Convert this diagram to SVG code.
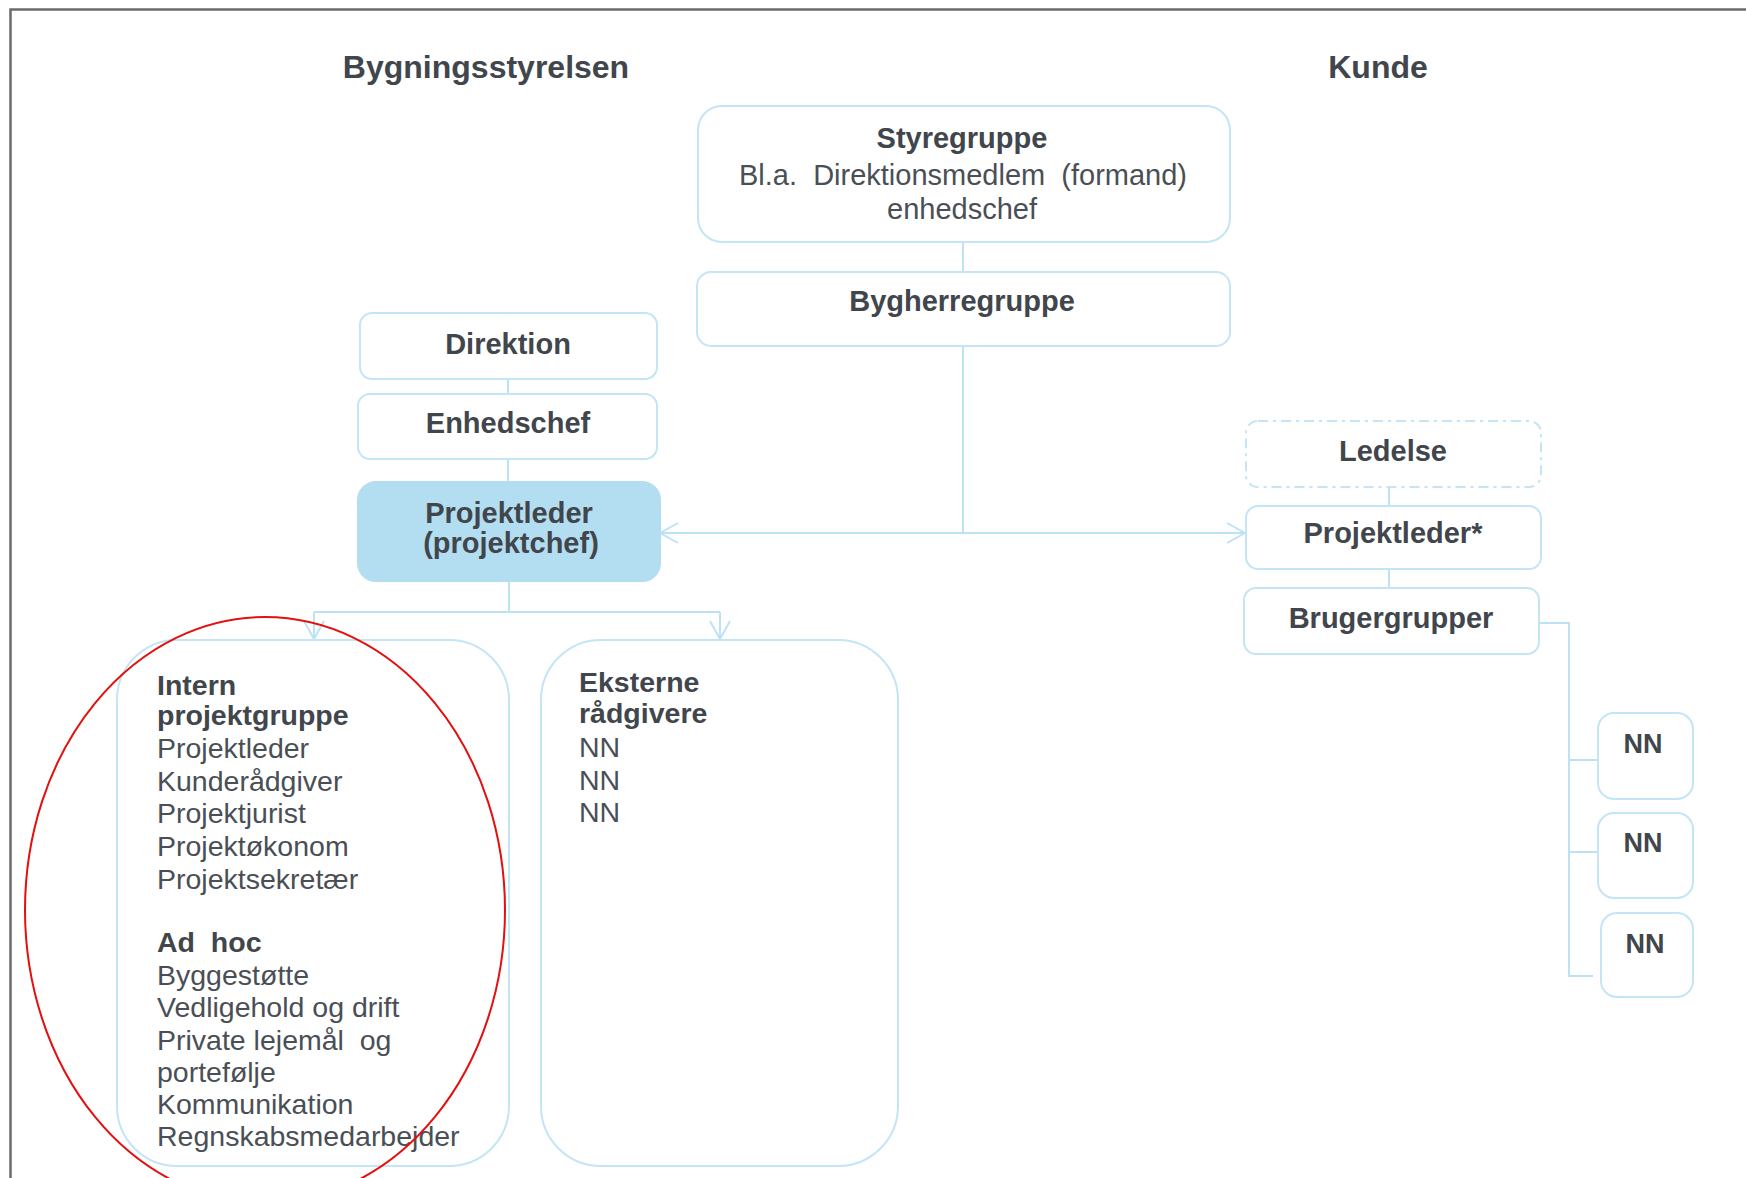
<svg xmlns="http://www.w3.org/2000/svg" width="1746" height="1178" viewBox="0 0 1746 1178">
<defs>
<style>
.box{fill:#ffffff;stroke:#c3e5f6;stroke-width:2}
.dash{stroke-dasharray:10 5 3 5}
.hl{fill:#b3def1;stroke:#b3def1;stroke-width:2}
.con{fill:none;stroke:#bde2f4;stroke-width:2}
.t{font-family:"Liberation Sans",Arial,sans-serif;fill:#41464c}
.title{font-size:32px;font-weight:bold;text-anchor:middle}
.lbl{font-size:29px;font-weight:bold;text-anchor:middle}
.reg{font-size:29px;text-anchor:middle;fill:#4a4f55}
.lb{font-size:28.5px;font-weight:bold}
.lr{font-size:28.5px;fill:#4a4f55}
</style>
<marker id="arr" viewBox="0 0 20 22" refX="19" refY="11" markerWidth="20" markerHeight="22" markerUnits="userSpaceOnUse" orient="auto-start-reverse">
<path d="M1,1 L19,11 L1,21" fill="none" stroke="#bde2f4" stroke-width="2"/>
</marker>
</defs>
<rect width="1746" height="1178" fill="#ffffff"/>
<path d="M10.5 1178 V9.5 H1746" fill="none" stroke="#6b6b6b" stroke-width="2.5"/>
<text class="t title" x="486" y="78">Bygningsstyrelsen</text>
<text class="t title" x="1378" y="78">Kunde</text>
<g id="connectors">
<path class="con" d="M963 242 V272"/>
<path class="con" d="M963 346 V533"/>
<path class="con" d="M660 533 H1245" marker-start="url(#arr)" marker-end="url(#arr)"/>
<path class="con" d="M508 379 V394"/>
<path class="con" d="M508 459 V482"/>
<path class="con" d="M509 581 V612"/>
<path class="con" d="M314 612 H720"/>
<path class="con" d="M314 612 V639" marker-end="url(#arr)"/>
<path class="con" d="M720 612 V639" marker-end="url(#arr)"/>
<path class="con" d="M1389 487 V506"/>
<path class="con" d="M1389 569 V588"/>
<path class="con" d="M1539 623 H1569 V976 H1593"/>
<path class="con" d="M1569 760 H1598"/>
<path class="con" d="M1569 852 H1598"/>
</g>
<g id="styregruppe">
<rect class="box" x="698" y="106" width="532" height="136" rx="24"/>
<text class="t lbl" x="962" y="148">Styregruppe</text>
<text class="t reg" x="963" y="185">Bl.a.&#160; Direktionsmedlem&#160; (formand)</text>
<text class="t reg" x="962" y="219">enhedschef</text>
</g>
<g id="bygherregruppe">
<rect class="box" x="697" y="272" width="533" height="74" rx="14"/>
<text class="t lbl" x="962" y="311">Bygherregruppe</text>
</g>
<g id="direktion">
<rect class="box" x="360" y="313" width="297" height="66" rx="12"/>
<text class="t lbl" x="508" y="354">Direktion</text>
</g>
<g id="enhedschef">
<rect class="box" x="358" y="394" width="299" height="65" rx="12"/>
<text class="t lbl" x="508" y="433">Enhedschef</text>
</g>
<g id="projektleder">
<rect class="hl" x="358" y="482" width="302" height="99" rx="18"/>
<text class="t lbl" x="509" y="523">Projektleder</text>
<text class="t lbl" x="511" y="553">(projektchef)</text>
</g>
<g id="intern">
<rect class="box" x="117" y="640" width="392" height="526" rx="60"/>
<text class="t lb" x="157" y="695">Intern</text>
<text class="t lb" x="157" y="725">projektgruppe</text>
<text class="t lr" x="157" y="758">Projektleder</text>
<text class="t lr" x="157" y="791">Kunderådgiver</text>
<text class="t lr" x="157" y="823">Projektjurist</text>
<text class="t lr" x="157" y="856">Projektøkonom</text>
<text class="t lr" x="157" y="889">Projektsekretær</text>
<text class="t lb" x="157" y="952">Ad&#160; hoc</text>
<text class="t lr" x="157" y="985">Byggestøtte</text>
<text class="t lr" x="157" y="1017">Vedligehold og drift</text>
<text class="t lr" x="157" y="1050">Private lejemål&#160; og</text>
<text class="t lr" x="157" y="1082">portefølje</text>
<text class="t lr" x="157" y="1114">Kommunikation</text>
<text class="t lr" x="157" y="1146">Regnskabsmedarbejder</text>
</g>
<g id="eksterne">
<rect class="box" x="541" y="640" width="357" height="526" rx="60"/>
<text class="t lb" x="579" y="692">Eksterne</text>
<text class="t lb" x="579" y="723">rådgivere</text>
<text class="t lr" x="579" y="757">NN</text>
<text class="t lr" x="579" y="790">NN</text>
<text class="t lr" x="579" y="822">NN</text>
</g>
<g id="ledelse">
<rect class="box dash" x="1246" y="421" width="295" height="66" rx="12"/>
<text class="t lbl" x="1393" y="461">Ledelse</text>
</g>
<g id="projektleder-kunde">
<rect class="box" x="1246" y="506" width="295" height="63" rx="12"/>
<text class="t lbl" x="1393" y="543">Projektleder*</text>
</g>
<g id="brugergrupper">
<rect class="box" x="1244" y="588" width="295" height="66" rx="12"/>
<text class="t lbl" x="1391" y="628">Brugergrupper</text>
</g>
<g id="nn1">
<rect class="box" x="1598" y="713" width="95" height="86" rx="16"/>
<text class="t lbl" x="1643" y="753" style="font-size:27px">NN</text>
</g>
<g id="nn2">
<rect class="box" x="1598" y="813" width="95" height="85" rx="16"/>
<text class="t lbl" x="1643" y="852" style="font-size:27px">NN</text>
</g>
<g id="nn3">
<rect class="box" x="1601" y="913" width="92" height="84" rx="16"/>
<text class="t lbl" x="1645" y="953" style="font-size:27px">NN</text>
</g>
<ellipse cx="265" cy="910" rx="240" ry="293" fill="none" stroke="#e41010" stroke-width="2"/>
</svg>
